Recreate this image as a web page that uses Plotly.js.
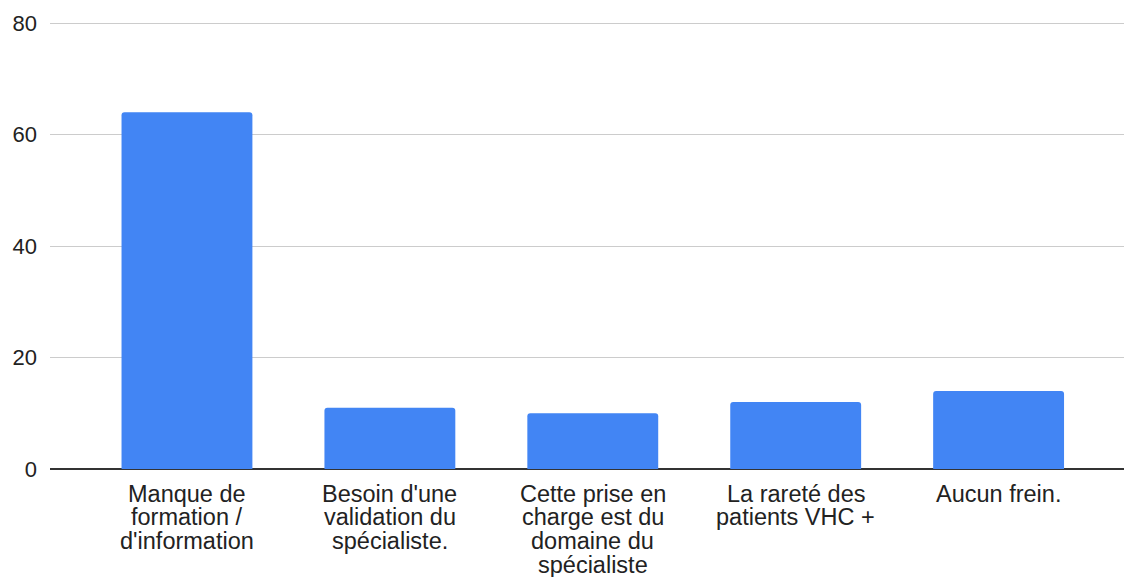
<!DOCTYPE html>
<html>
<head>
<meta charset="utf-8">
<script src="https://cdn.plot.ly/plotly-3.0.1.min.js"></script>
<style>html,body{margin:0;padding:0;background:#fff;}#chart{width:1124px;height:577px;}</style>
</head>
<body>
<div id="chart"></div>
<script>
const categories = [
  ["Manque de", "formation /", "d'information"],
  ["Besoin d'une", "validation du", "spécialiste."],
  ["Cette prise en", "charge est du", "domaine du", "spécialiste"],
  ["La rareté des", "patients VHC +"],
  ["Aucun frein."]
];
const values = [64, 11, 10, 12, 14];
const yTicks = [0, 20, 40, 60, 80];

const xs = categories.map((c, i) => i);

const trace = {
  type: 'bar',
  x: xs,
  y: values,
  marker: {color: '#4285F4'},
  width: 0.645,
  hoverinfo: 'none'
};

const fontFam = 'Arial, "Liberation Sans", sans-serif';
const labelFont = {family: fontFam, size: 23.5, color: '#222'};
const tickFont = {family: fontFam, size: 22, color: '#222'};
const annotations = [];
categories.forEach((lines, i) => {
  lines.forEach((line, k) => {
    annotations.push({
      xref: 'x', yref: 'paper', x: i, y: 0,
      xanchor: 'center', yanchor: 'middle',
      yshift: -24.5 - k * 23.7,
      borderpad: 0,
      text: line, showarrow: false, font: labelFont
    });
  });
});

const layout = {
  width: 1124, height: 577,
  margin: {l: 50, r: 0, t: 11.8, b: 107.5},
  paper_bgcolor: '#fff', plot_bgcolor: '#fff',
  showlegend: false,
  barcornerradius: 3,
  font: tickFont,
  annotations: annotations,
  xaxis: {
    range: [-0.675, 4.618],
    tickvals: xs,
    showticklabels: false,
    showgrid: false, zeroline: false, showline: false, ticks: ''
  },
  yaxis: {
    range: [0, 82],
    tickmode: 'array', tickvals: yTicks,
    showgrid: true, gridcolor: '#cccccc', gridwidth: 1,
    zeroline: true, zerolinecolor: '#333333', zerolinewidth: 2,
    showline: false, ticks: '',
    tickfont: tickFont,
    ticklabelstandoff: 12
  }
};

Plotly.newPlot('chart', [trace], layout, {displayModeBar: false, staticPlot: true});
</script>
</body>
</html>
